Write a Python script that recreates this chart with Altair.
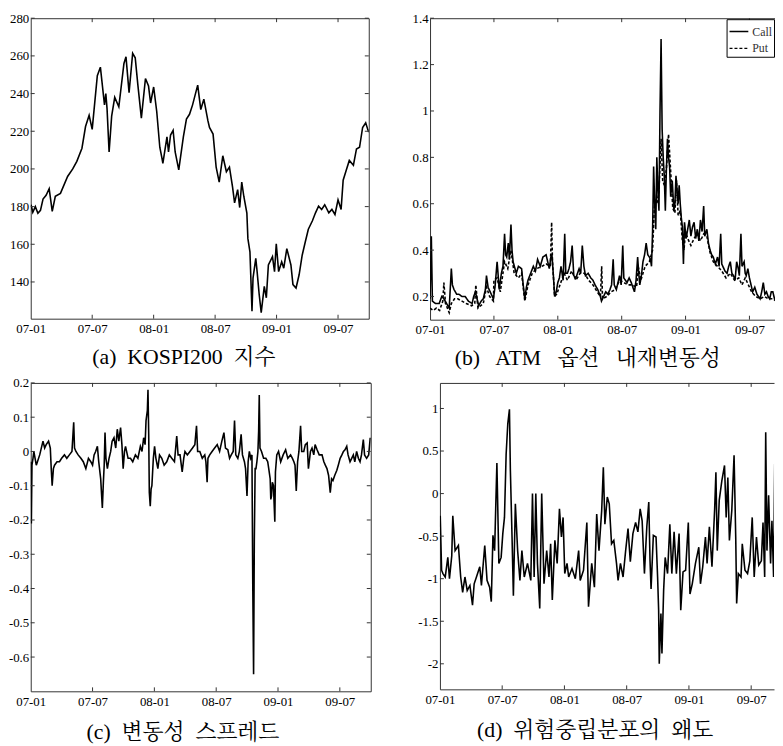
import altair as alt
import pandas as pd

# ---- time axis: months since 2007-01-01 ----
X_TICKS = [0, 6, 12, 18, 24, 30]
X_LABELS = ["07-01", "07-07", "08-01", "08-07", "09-01", "09-07"]

# ---- (a) KOSPI200 index ----
KOSPI_T = [0.03, 0.2, 0.45, 0.7, 0.95, 1.2, 1.5, 1.8, 2.1, 2.4, 2.9, 3.6, 4.1, 4.5, 5.0, 5.35, 5.7, 6.0,
           6.5, 6.8, 7.2, 7.33, 7.45, 7.65, 7.9, 8.2, 8.6, 9.1, 9.3, 9.6, 9.95, 10.2, 10.45, 10.8, 11.2,
           11.5, 11.7, 12.0, 12.3, 12.6, 12.8, 12.9, 13.3, 13.45, 13.65, 13.9, 14.1, 14.45, 14.9, 15.2,
           15.5, 15.8, 16.3, 16.6, 16.9, 17.3, 17.45, 17.8, 18.1, 18.4, 18.75, 19.1, 19.4, 19.7, 19.9,
           20.2, 20.4, 20.6, 20.8, 21.1, 21.2, 21.4, 21.6, 21.7, 21.97, 22.1, 22.3, 22.5, 22.8, 23.0,
           23.2, 23.6, 23.8, 23.97, 24.2, 24.5, 24.7, 25.0, 25.4, 25.6, 25.9, 26.2, 26.5, 26.8, 27.1,
           27.5, 27.8, 28.1, 28.4, 28.7, 29.1, 29.4, 29.7, 30.0, 30.3, 30.5, 30.8, 31.1, 31.5, 31.8,
           32.1, 32.4, 32.7, 32.9, 33.0]
KOSPI_V = [181, 177, 180, 176.5, 178, 184, 186, 189.5, 177.5, 185.5, 187, 196, 200, 204, 211, 222.5,
           228.5, 221, 249.5, 254, 234, 240, 232, 209, 228, 238, 233, 256, 259.5, 240.5, 261.4, 259,
           245, 227, 248, 244, 235, 243.5, 230.5, 211.5, 206, 203, 217, 209, 218, 220.5, 209, 199.5,
           217, 226.5, 229, 234, 244.5, 231.5, 237, 225.5, 222, 218.5, 201, 193, 207, 198.5, 201,
           190.5, 182, 189, 179.5, 193, 185.5, 176.5, 163, 156, 124.5, 142, 152.5, 145.5, 133.5,
           123.7, 137.7, 131.6, 149, 153.4, 145.5, 160.3, 145.5, 150.7, 147.3, 157.7, 149, 138.6,
           136.8, 143.8, 154.2, 161.2, 168, 172.5, 176.7, 180.2, 178.5, 181, 176.7, 178.5, 175.8,
           183.6, 178.5, 194, 199.3, 204.5, 202, 210.6, 211.5, 222, 224.5, 221, 219.5]

# ---- (b) ATM implied volatility ----
CALL_T = [0.0, 0.12, 0.22, 0.5, 0.86, 1.1, 1.3, 1.55, 1.8, 2.0, 2.1, 2.25, 2.5, 2.7, 3.0, 3.3, 3.6,
          3.95, 4.1, 4.26, 4.57, 4.8, 5.0, 5.2, 5.3, 5.45, 5.65, 5.95, 6.1, 6.3, 6.5, 6.7, 6.85, 7.0,
          7.1, 7.2, 7.35, 7.45, 7.6, 7.7, 7.8, 8.1, 8.3, 8.6, 8.75, 8.9, 9.05, 9.2, 9.45, 9.7, 9.9,
          10.1, 10.35, 10.6, 10.9, 11.05, 11.2, 11.35, 11.45, 11.6, 11.7, 11.85, 12.0, 12.15, 12.3,
          12.5, 12.65, 12.75, 12.9, 13.05, 13.2, 13.35, 13.5, 13.7, 14.0, 14.15, 14.3, 14.45, 14.6,
          14.85, 15.1, 15.3, 15.5, 15.75, 16.0, 16.1, 16.3, 16.5, 16.7, 16.9, 17.05, 17.2, 17.3,
          17.5, 17.65, 17.8, 17.95, 18.1, 18.2, 18.5, 18.7, 18.9, 19.05, 19.2, 19.35, 19.5, 19.6,
          19.7, 19.85, 20.0, 20.15, 20.3, 20.45, 20.6, 20.7, 20.8, 20.9, 21.0, 21.1, 21.2, 21.3,
          21.4, 21.5, 21.6, 21.7, 21.8, 21.9, 22.0, 22.1, 22.2, 22.3, 22.4, 22.5, 22.6, 22.75, 22.9,
          23.0, 23.1, 23.2, 23.3, 23.4, 23.5, 23.6, 23.7, 23.8, 23.9, 24.05, 24.2, 24.35, 24.5,
          24.65, 24.8, 24.95, 25.1, 25.25, 25.4, 25.55, 25.7, 25.8, 26.0, 26.15, 26.3, 26.45, 26.6,
          26.8, 27.0, 27.15, 27.3, 27.4, 27.5, 27.7, 27.9, 28.05, 28.2, 28.35, 28.5, 28.65, 28.8,
          28.95, 29.05, 29.2, 29.3, 29.5, 29.6, 29.7, 29.85, 30.0, 30.15, 30.3, 30.5, 30.7, 30.85,
          31.0, 31.15, 31.3, 31.45, 31.6, 31.75, 31.9, 32.05, 32.2, 32.35, 32.5]
CALL_V = [0.19, 0.46, 0.18, 0.17, 0.17, 0.2, 0.19, 0.17, 0.15, 0.32, 0.25, 0.23, 0.21, 0.21, 0.2,
          0.2, 0.18, 0.17, 0.2, 0.22, 0.16, 0.18, 0.19, 0.23, 0.29, 0.24, 0.22, 0.19, 0.24, 0.35,
          0.23, 0.3, 0.33, 0.47, 0.38, 0.37, 0.43, 0.36, 0.51, 0.4, 0.35, 0.3, 0.33, 0.32, 0.25,
          0.19, 0.24, 0.27, 0.3, 0.33, 0.31, 0.36, 0.33, 0.37, 0.38, 0.35, 0.32, 0.37, 0.38, 0.28,
          0.2, 0.22, 0.26, 0.28, 0.33, 0.27, 0.47, 0.3, 0.3, 0.32, 0.35, 0.42, 0.29, 0.28, 0.32,
          0.3, 0.42, 0.33, 0.29, 0.3, 0.28, 0.27, 0.25, 0.23, 0.2, 0.18, 0.2, 0.22, 0.21, 0.23,
          0.25, 0.36, 0.25, 0.23, 0.26, 0.29, 0.25, 0.42, 0.28, 0.26, 0.28, 0.26, 0.24, 0.22, 0.27,
          0.37, 0.3, 0.25, 0.29, 0.35, 0.38, 0.43, 0.38, 0.37, 0.36, 0.33, 0.48, 0.76, 0.6, 0.49,
          0.8, 0.66, 0.57, 1.0, 1.31, 0.92, 0.8, 0.72, 0.57, 0.75, 0.88, 0.8, 0.76, 0.63, 0.7, 0.57,
          0.6, 0.72, 0.66, 0.6, 0.68, 0.6, 0.54, 0.5, 0.34, 0.52, 0.45, 0.49, 0.53, 0.46, 0.5, 0.52,
          0.45, 0.49, 0.44, 0.53, 0.48, 0.59, 0.46, 0.49, 0.43, 0.4, 0.38, 0.37, 0.34, 0.37, 0.33,
          0.47, 0.34, 0.33, 0.31, 0.3, 0.33, 0.35, 0.3, 0.29, 0.27, 0.35, 0.32, 0.29, 0.47, 0.33,
          0.35, 0.3, 0.29, 0.32, 0.28, 0.25, 0.22, 0.24, 0.21, 0.2, 0.19, 0.22, 0.26, 0.21, 0.22,
          0.2, 0.19, 0.22, 0.22, 0.19, 0.2]
PUT_T = [0.0, 0.3, 0.6, 0.9, 1.2, 1.3, 1.45, 1.8, 2.0, 2.3, 2.6, 3.0, 3.4, 3.9, 4.2, 4.3, 4.5, 5.0,
         5.3, 5.6, 5.95, 6.0, 6.3, 6.6, 7.0, 7.3, 7.6, 7.9, 8.3, 8.6, 8.9, 9.2, 9.6, 10.0, 10.5, 10.9,
         11.3, 11.42, 11.5, 11.7, 11.9, 12.2, 12.6, 12.9, 13.3, 13.7, 14.1, 14.5, 14.9, 15.3, 15.7,
         16.0, 16.12, 16.2, 16.6, 17.0, 17.4, 17.8, 18.2, 18.6, 19.0, 19.4, 19.55, 19.8, 20.2, 20.6,
         20.9, 21.1, 21.3, 21.5, 21.7, 21.85, 22.0, 22.2, 22.4, 22.6, 22.8, 23.0, 23.15, 23.3, 23.5,
         23.7, 23.85, 24.0, 24.2, 24.5, 24.8, 25.1, 25.4, 25.7, 26.0, 26.3, 26.6, 27.0, 27.4, 27.8,
         28.2, 28.6, 29.0, 29.3, 29.6, 29.9, 30.2, 30.6, 31.0, 31.4, 31.8, 32.2, 32.5]
PUT_V = [0.15, 0.14, 0.15, 0.14, 0.18, 0.26, 0.17, 0.13, 0.17, 0.19, 0.19, 0.18, 0.17, 0.16, 0.17,
         0.25, 0.15, 0.17, 0.24, 0.2, 0.18, 0.27, 0.28, 0.22, 0.35, 0.32, 0.4, 0.3, 0.28, 0.3, 0.18,
         0.25, 0.3, 0.32, 0.33, 0.34, 0.33, 0.52, 0.35, 0.2, 0.21, 0.25, 0.3, 0.27, 0.31, 0.27, 0.3,
         0.3, 0.27, 0.25, 0.22, 0.2, 0.33, 0.19, 0.2, 0.22, 0.23, 0.27, 0.26, 0.25, 0.25, 0.24, 0.33,
         0.27, 0.33, 0.35, 0.4, 0.62, 0.6, 0.65, 0.88, 0.7, 0.68, 0.75, 0.9, 0.74, 0.58, 0.56, 0.7,
         0.55, 0.57, 0.44, 0.4, 0.48, 0.45, 0.42, 0.45, 0.47, 0.44, 0.47, 0.46, 0.39, 0.35, 0.33,
         0.31, 0.28, 0.3, 0.27, 0.28, 0.25, 0.28, 0.25, 0.22, 0.2, 0.19, 0.2, 0.19, 0.19, 0.18]

# ---- (c) volatility spread ----
SPREAD_T = [0.0, 0.06, 0.12, 0.22, 0.3, 0.54, 0.87, 1.19, 1.35, 1.5, 1.73, 1.9, 1.99, 2.08, 2.2, 2.31,
            2.55, 2.79, 3.0, 3.27, 3.5, 3.75, 4.0, 4.17, 4.25, 4.39, 4.6, 4.87, 5.1, 5.35, 5.6, 5.83,
            6.0, 6.15, 6.3, 6.47, 6.6, 6.79, 6.95, 7.05, 7.13, 7.21, 7.3, 7.44, 7.6, 7.76, 7.9, 8.08,
            8.25, 8.4, 8.55, 8.72, 8.85, 8.97, 9.1, 9.2, 9.45, 9.68, 9.9, 10.16, 10.4, 10.64, 10.8,
            10.96, 11.1, 11.19, 11.32, 11.38, 11.45, 11.51, 11.6, 11.68, 11.76, 11.9, 12.02, 12.15,
            12.34, 12.5, 12.72, 12.95, 13.2, 13.45, 13.69, 13.95, 14.17, 14.3, 14.49, 14.7, 14.85,
            14.97, 15.2, 15.45, 15.7, 15.93, 16.09, 16.2, 16.41, 16.65, 16.89, 17.0, 17.12, 17.2,
            17.37, 17.6, 17.85, 18.1, 18.33, 18.55, 18.75, 18.9, 19.13, 19.3, 19.46, 19.65, 19.78,
            19.9, 20.1, 20.25, 20.42, 20.55, 20.74, 20.85, 20.99, 21.1, 21.22, 21.35, 21.47, 21.55,
            21.63, 21.7, 21.78, 21.86, 21.95, 22.05, 22.12, 22.18, 22.25, 22.4, 22.6, 22.82, 23.0,
            23.1, 23.24, 23.3, 23.37, 23.45, 23.56, 23.62, 23.69, 23.75, 23.88, 24.05, 24.26, 24.5,
            24.74, 24.95, 25.22, 25.4, 25.54, 25.65, 25.77, 25.9, 26.03, 26.19, 26.3, 26.5, 26.65,
            26.83, 26.95, 27.15, 27.3, 27.47, 27.6, 27.79, 28.0, 28.27, 28.45, 28.59, 28.75, 28.91,
            29.07, 29.2, 29.33, 29.5, 29.71, 29.85, 30.03, 30.2, 30.35, 30.5, 30.67, 30.8, 30.99,
            31.15, 31.31, 31.45, 31.63, 31.8, 31.96, 32.1, 32.28, 32.4, 32.6, 32.8, 32.95]
SPREAD_V = [-0.03, -0.21, -0.04, -0.02, 0.0, -0.04, -0.01, 0.03, 0.01, 0.02, 0.03, 0.01, -0.05, -0.1,
            -0.05, -0.04, -0.03, -0.03, -0.02, -0.01, -0.02, -0.01, 0.0, 0.085, 0.01, 0.0, -0.01,
            -0.02, -0.03, -0.05, -0.02, -0.03, -0.04, -0.01, 0.0, 0.015, -0.03, -0.08, -0.165, -0.09,
            -0.04, 0.055, -0.02, -0.05, -0.02, 0.0, 0.03, 0.04, 0.01, 0.065, 0.03, 0.07, 0.02, -0.05,
            0.0, 0.015, -0.02, -0.02, -0.03, -0.01, -0.02, 0.015, 0.0, 0.04, 0.02, 0.09, 0.12, 0.18,
            0.05, -0.12, -0.16, -0.11, -0.1, -0.02, 0.015, -0.02, -0.05, -0.01, -0.02, -0.04, -0.03,
            -0.01, -0.02, -0.03, 0.045, -0.01, -0.01, -0.06, -0.02, 0.0, -0.01, 0.0, 0.01, 0.02,
            0.075, 0.0, 0.0, -0.02, -0.01, -0.03, -0.09, -0.02, -0.01, 0.0, 0.01, 0.02, 0.0, 0.03,
            0.055, 0.01, 0.005, -0.02, -0.01, 0.0, 0.09, -0.01, -0.02, 0.0, 0.05, -0.01, -0.03,
            -0.05, -0.13, -0.03, 0.0, -0.02, -0.01, -0.39, -0.65, -0.26, -0.05, -0.05, -0.03, 0.0,
            0.06, 0.165, 0.01, 0.0, -0.02, -0.02, -0.03, -0.05, -0.08, -0.14, -0.13, -0.09, -0.1,
            -0.15, -0.205, -0.06, -0.01, 0.0, -0.03, -0.01, 0.005, -0.02, -0.01, -0.02, -0.03, -0.04,
            -0.115, -0.03, 0.0, 0.075, 0.0, 0.0, 0.02, 0.025, -0.05, 0.0, 0.01, -0.01, 0.02, 0.005,
            -0.01, -0.01, -0.03, -0.04, -0.05, -0.07, -0.12, -0.08, -0.085, -0.07, -0.055, -0.04,
            -0.02, -0.01, 0.0, 0.005, 0.015, -0.01, -0.03, -0.02, -0.01, -0.03, 0.0, -0.02, -0.03,
            -0.01, 0.035, -0.01, -0.02, -0.01, 0.04]

# ---- (d) risk-neutral skewness ----
SKEW_T = [0.0, 0.03, 0.16, 0.29, 0.51, 0.76, 0.92, 1.14, 1.24, 1.46, 1.78, 2.0, 2.19, 2.41, 2.63, 2.89,
          3.14, 3.3, 3.52, 3.84, 4.0, 4.32, 4.54, 4.79, 4.95, 5.11, 5.27, 5.49, 5.68, 5.9, 6.06, 6.22,
          6.38, 6.54, 6.7, 6.79, 6.95, 7.08, 7.27, 7.49, 7.71, 7.9, 8.13, 8.44, 8.76, 8.92, 9.08, 9.24,
          9.4, 9.62, 9.81, 10.03, 10.29, 10.51, 10.67, 10.83, 11.08, 11.3, 11.52, 11.71, 11.87, 12.03,
          12.25, 12.41, 12.73, 13.05, 13.37, 13.52, 13.84, 14.16, 14.32, 14.63, 14.89, 15.11, 15.33,
          15.59, 15.75, 15.9, 16.13, 16.32, 16.54, 16.76, 17.02, 17.17, 17.4, 17.65, 17.9, 18.13,
          18.35, 18.6, 18.86, 19.08, 19.3, 19.49, 19.71, 19.94, 20.13, 20.25, 20.35, 20.57, 20.83,
          20.98, 21.08, 21.14, 21.3, 21.4, 21.56, 21.71, 21.94, 22.16, 22.35, 22.57, 22.79, 23.05,
          23.21, 23.43, 23.68, 23.94, 24.1, 24.32, 24.63, 24.95, 25.11, 25.33, 25.59, 25.75, 25.97,
          26.22, 26.48, 26.6, 26.73, 26.92, 27.17, 27.43, 27.59, 27.75, 27.9, 28.13, 28.35, 28.51,
          28.6, 28.76, 29.02, 29.14, 29.4, 29.65, 29.87, 30.1, 30.29, 30.51, 30.73, 30.98, 31.14,
          31.3, 31.4, 31.52, 31.68, 31.87, 32.0, 32.16, 32.27, 32.41]
SKEW_V = [-0.39, -0.26, -0.9, -0.94, -0.98, -0.75, -1.0, -0.73, -0.26, -0.67, -0.61, -0.98, -1.16,
          -0.98, -1.14, -1.08, -1.31, -1.06, -0.98, -0.86, -1.08, -0.61, -1.02, -1.1, -1.27, -0.49,
          -0.67, 0.36, -0.82, -0.75, -0.47, -0.28, 0.46, 0.82, 0.99, 0.27, -0.51, -1.2, -0.12, -0.67,
          -1.02, -0.67, -0.98, -0.82, -1.02, 0.0, -0.98, 0.0, -0.82, -1.35, 0.0, -1.06, -0.67, -0.98,
          -0.59, -1.25, -0.55, -0.82, -0.18, -0.51, -0.28, -0.94, -0.82, -0.98, -0.88, -1.0, -0.67,
          -1.02, -0.9, -0.34, -1.33, -0.82, -1.1, -0.24, -0.67, -0.2, 0.31, -0.36, -0.04, -0.12,
          -0.59, -0.55, -0.82, -1.02, -0.82, -0.98, -0.67, -0.41, -0.8, -0.47, -0.34, -0.45, -0.18,
          -0.32, -0.94, -0.39, -0.1, -0.79, -1.12, -0.49, -0.51, -0.98, -1.37, -2.0, -1.41, -1.88,
          -1.14, -0.75, -0.94, -0.36, -0.94, -0.45, -0.94, -0.47, -1.37, -0.92, -0.9, -0.34, -1.18,
          -1.06, -0.82, -0.63, -1.06, -0.86, -0.51, -0.82, -0.39, -0.86, -0.18, 0.25, -0.67, -0.08,
          0.15, 0.33, -0.28, 0.19, -0.55, -0.2, 0.45, -0.51, -1.29, -0.94, -0.98, -0.59, -0.9, -0.94,
          -0.79, -0.28, -0.98, -0.51, -0.84, -0.79, -0.34, -0.98, 0.72, -0.67, -0.02, -0.82, -0.32,
          -0.98, 0.35, -1.14]

Y_TICKS_A = [140, 160, 180, 200, 220, 240, 260, 280]
Y_TICKS_B = [0.2, 0.4, 0.6, 0.8, 1.0, 1.2, 1.4]
Y_TICKS_C = [-0.6, -0.5, -0.4, -0.3, -0.2, -0.1, 0.0, 0.1, 0.2]
Y_TICKS_D = [-2.0, -1.5, -1.0, -0.5, 0.0, 0.5, 1.0]

NB = "\u00a0"
CAPTIONS = [f"(a){NB} KOSPI200{NB} 지수",
            f"(b){NB}{NB} ATM{NB}{NB} 옵션{NB}{NB} 내재변동성",
            f"(c){NB} 변동성{NB} 스프레드",
            f"(d){NB} 위험중립분포의{NB} 왜도"]
SERIES_NAMES = ["Call", "Put"]

SERIF = "Liberation Serif"
CAP_FONT = "Liberation Serif, Noto Serif CJK KR, Noto Sans CJK KR"
FRAME = "#333333"

X_EXPR = "".join(f"datum.value == {t} ? '{l}' : " for t, l in zip(X_TICKS, X_LABELS)) + "''"
Y_EXPR = "datum.value < 0 ? '-' + format(-datum.value, '~g') : format(datum.value, '~g')"


def panel(df, x_max, y_dom, y_ticks, w, h, caption, cap_dx, cap_offset, right_border, dash=False):
    xs = alt.Scale(domain=[0, x_max], nice=False, zero=False)
    ys = alt.Scale(domain=y_dom, nice=False, zero=False)
    x_axis = alt.Axis(orient="bottom", values=X_TICKS, labelExpr=X_EXPR, ticks=False, tickSize=0,
                      grid=False, domain=True, domainColor=FRAME, labelPadding=4, title=None,
                      minExtent=0, labelFlush=False, labelOverlap=False)
    y_axis = alt.Axis(orient="left", values=y_ticks, labelExpr=Y_EXPR, ticks=False, tickSize=0,
                      grid=False, domain=True, domainColor=FRAME, labelPadding=2, title=None,
                      minExtent=0, labelOverlap=False)
    top_axis = alt.Axis(orient="top", labels=False, ticks=False, tickSize=0, grid=False, domain=True,
                        domainColor=FRAME, title=None, minExtent=0, maxExtent=0)
    right_ax = alt.Axis(orient="right", labels=False, ticks=False, tickSize=0, grid=False,
                        domain=right_border, domainColor=FRAME, title=None, minExtent=0, maxExtent=0)

    enc = dict(x=alt.X("t:Q", scale=xs, axis=x_axis), y=alt.Y("v:Q", scale=ys, axis=y_axis))
    if dash:
        enc["strokeDash"] = alt.StrokeDash(
            "series:N",
            scale=alt.Scale(domain=SERIES_NAMES, range=[[1, 0], [3, 2]]),
            legend=alt.Legend(orient="top-right", offset=1, title=None, strokeColor="black",
                              fillColor="white", padding=2, labelFont=SERIF, labelFontSize=12,
                              labelColor="#333333", symbolType="stroke", symbolSize=361,
                              symbolStrokeColor="black", symbolStrokeWidth=1.3, rowPadding=0,
                              labelOffset=3, cornerRadius=0))
        enc["strokeWidth"] = alt.StrokeWidth("series:N", scale=alt.Scale(domain=SERIES_NAMES, range=[1.6, 1.2]), legend=None)
    line = alt.Chart(df).mark_line(color="black", strokeWidth=1.6, clip=True).encode(**enc)

    xt = pd.DataFrame({"t": X_TICKS[1:]})
    yt = pd.DataFrame({"v": y_ticks})
    tick_style = dict(color=FRAME, strokeWidth=1)
    xb = alt.Chart(xt).mark_rule(**tick_style).encode(
        x=alt.X("t:Q", scale=xs, axis=top_axis), y=alt.value(h), y2=alt.value(h - 4))
    xtp = alt.Chart(xt).mark_rule(**tick_style).encode(
        x=alt.X("t:Q", scale=xs, axis=None), y=alt.value(0), y2=alt.value(4))
    yl = alt.Chart(yt).mark_rule(**tick_style).encode(
        y=alt.Y("v:Q", scale=ys, axis=right_ax), x=alt.value(0), x2=alt.value(4))
    layers = [line, xb, xtp, yl]
    if right_border:
        yr = alt.Chart(yt).mark_rule(**tick_style).encode(
            y=alt.Y("v:Q", scale=ys, axis=None), x=alt.value(w), x2=alt.value(w - 4))
        layers.append(yr)
    return alt.layer(*layers).properties(
        width=w, height=h,
        title=alt.TitleParams(text=caption, orient="bottom", anchor="middle", frame="group",
                              font=CAP_FONT, fontSize=22, fontWeight="normal", color="black",
                              offset=cap_offset, dx=cap_dx))


df_a = pd.DataFrame({"t": KOSPI_T, "v": KOSPI_V})
df_b = pd.concat([pd.DataFrame({"t": CALL_T, "v": CALL_V, "series": "Call"}),
                  pd.DataFrame({"t": PUT_T, "v": PUT_V, "series": "Put"})], ignore_index=True)
df_c = pd.DataFrame({"t": SPREAD_T, "v": SPREAD_V})
df_d = pd.DataFrame({"t": SKEW_T, "v": SKEW_V})

pa = panel(df_a, 33, [120.5, 280], Y_TICKS_A, 342, 304, CAPTIONS[0], -16, 12, True)
pb = panel(df_b, 32.4, [0.1, 1.4], Y_TICKS_B, 349, 305, CAPTIONS[1], -15, 12, False, dash=True)
pc = panel(df_c, 33, [-0.7, 0.2], Y_TICKS_C, 344, 312, CAPTIONS[2], -18, 14, True)
pd_ = panel(df_d, 32.2, [-2.3, 1.3], Y_TICKS_D, 338, 310, CAPTIONS[3], -12, 14, False)

row1 = alt.hconcat(pa, pb, spacing=42).resolve_legend(strokeDash="independent", strokeWidth="independent")
row2 = alt.hconcat(pc, pd_, spacing=46)
chart = alt.vconcat(row1, row2, spacing=8).resolve_legend(
    strokeDash="independent", strokeWidth="independent"
).configure_view(stroke=None).configure_axis(
    labelFont=SERIF, labelFontSize=13, labelColor="black", domainWidth=1
).properties(padding=0, background="white")

chart.save("out.html", embed_options={"renderer": "svg", "actions": False})
